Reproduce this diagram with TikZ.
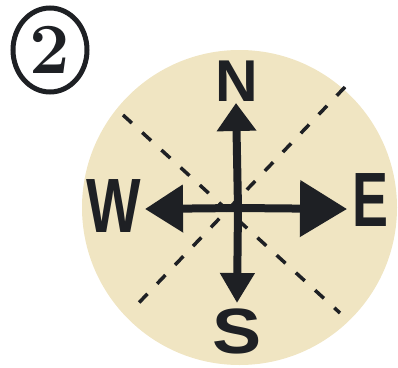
\documentclass[tikz,border=0pt]{standalone}
\usepackage{fontspec}
\setsansfont{Liberation Sans}
\usetikzlibrary{arrows.meta}
\definecolor{paper}{RGB}{240,229,194}
\definecolor{ink}{RGB}{30,32,36}
\tikzset{
  letter/.style={font=\sffamily\bfseries, text=ink, inner sep=0pt},
  arm/.style={draw=ink, line width=8pt},
  diag/.style={draw=ink, line width=3.5pt, dash pattern=on 12pt off 14pt},
}
\begin{document}
\begin{tikzpicture}[x=1pt,y=-1pt]
\useasboundingbox (0,0) rectangle (398,367);
% disc
\fill[paper] (239.5,207.5) circle [radius=157.5];
% circled number
\draw[ink, line width=5pt] (50,50) ellipse [x radius=37, y radius=42];
\node[font=\bfseries\fontsize{72}{72}\selectfont, text=ink, inner sep=0pt] (two) at (50,50) {2};
% centre and tips
\coordinate (c) at (238,208);
\coordinate (Ntip) at (236,103);
\coordinate (Stip) at (237,303);
\coordinate (Wtip) at (145,209);
\coordinate (Etip) at (347,209);
% diagonal dashed lines
\coordinate (d1a) at (123,115);
\coordinate (d1b) at (340,313);
\coordinate (d2a) at (345,87);
\coordinate (d2b) at (132,310);
\draw[diag] (d1a) -- (d1b);
\draw[diag] (d2a) -- (d2b);
% arms
\draw[arm, -{Triangle[length=28pt,width=38pt]}] (c) -- (Ntip);
\draw[arm, -{Triangle[length=30pt,width=33pt]}] (c) -- (Stip);
\draw[arm, -{Triangle[length=38pt,width=46pt]}] (c) -- (Wtip);
\draw[arm, -{Triangle[length=47pt,width=55pt]}] (c) -- (Etip);
% letters
\node[letter, font=\sffamily\bfseries\fontsize{59}{59}\selectfont] (N) at (237,81) {N};
\node[letter, font=\sffamily\bfseries\fontsize{64}{64}\selectfont, xscale=1.15] (S) at (237,331) {S};
\node[letter, font=\sffamily\bfseries\fontsize{77}{77}\selectfont, xscale=0.75] (W) at (114,206) {W};
\node[letter, font=\sffamily\bfseries\fontsize{77}{77}\selectfont, xscale=0.7] (E) at (370,200) {E};
\end{tikzpicture}
\end{document}
